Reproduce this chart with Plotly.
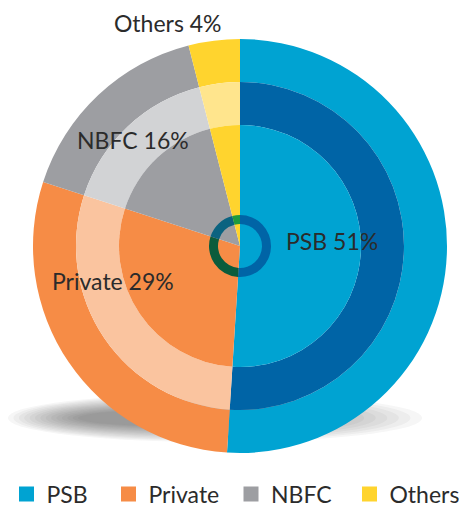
import plotly.graph_objects as go

categories = ["PSB", "Private", "NBFC", "Others"]
shares = [51, 29, 16, 4]
label_texts = ["PSB 51%", "Private 29%", "NBFC 16%", "Others 4%"]

outer_colors = ["#00A3D2", "#F68C46", "#9D9EA2", "#FFD42E"]
middle_colors = ["#0064A6", "#FAC49F", "#D2D3D5", "#FFE58D"]
inner_colors = ["#00A3D2", "#F68C46", "#9D9EA2", "#FFD42E"]
center_colors = ["#0064A6", "#0B5C3C", "#0B6380", "#1E9A3E"]

# page body has an 8px margin, so the figure is sized to fill the rest of the window
OFF = 8
W, H = 467 - OFF, 509 - OFF
cx, cy = 240, 246


def px(x):
    return (x - OFF) / W


def py(y):
    return 1 - (y - OFF) / H


def dom(r):
    return dict(x=[px(cx - r), px(cx + r)], y=[py(cy + r), py(cy - r)])


fig = go.Figure()

common = dict(labels=categories, values=shares, sort=False, direction="clockwise",
              rotation=0, textinfo="none", hoverinfo="label+percent", showlegend=False)

fig.add_trace(go.Pie(**common, domain=dom(207), hole=164 / 207,
                     marker=dict(colors=outer_colors, line=dict(width=0))))
fig.add_trace(go.Pie(**common, domain=dom(164), hole=121 / 164,
                     marker=dict(colors=middle_colors, line=dict(width=0))))
fig.add_trace(go.Pie(**common, domain=dom(121), hole=0,
                     marker=dict(colors=inner_colors, line=dict(width=0))))
fig.add_trace(go.Pie(**common, domain=dom(31), hole=22 / 31,
                     marker=dict(colors=center_colors, line=dict(width=0))))

# legend entries: one legend per category so each can sit where the reference puts it
legend_names = ["legend", "legend2", "legend3", "legend4"]
legend_square_x = [26.5, 128.5, 251, 369.5]
for name, color, lg in zip(categories, outer_colors, legend_names):
    fig.add_trace(go.Scatter(x=[None], y=[None], mode="markers", name=name,
                             marker=dict(symbol="square", size=15, color=color),
                             legend=lg, showlegend=True, hoverinfo="skip"))

# soft shadow under the pie
shapes = []
n = 14
for i in range(n):
    k = i / (n - 1)
    scx, scy = 215 - 40 * k, 418
    hw = 207 - 110 * k
    hh = 24 - 16 * k
    shapes.append(dict(type="circle", xref="paper", yref="paper", layer="below",
                       x0=px(scx - hw), x1=px(scx + hw),
                       y0=py(scy + hh), y1=py(scy - hh),
                       fillcolor="rgba(40,40,40,0.045)", line=dict(width=0)))

label_pos = [(332, 241, "middle"), (113, 281, "middle"), (133, 140, "middle"), (168, 8, "top")]
annotations = []
for t, (x, y, ya) in zip(label_texts, label_pos):
    annotations.append(dict(text=t, x=px(x), y=py(y), xref="paper", yref="paper",
                            showarrow=False, xanchor="center", yanchor=ya, borderpad=0,
                            font=dict(size=23, color="#2b2b2b", family="Lato")))

legend_font = dict(size=23, color="#2b2b2b", family="Lato")
layout_legends = {}
for lg, sx in zip(legend_names, legend_square_x):
    layout_legends[lg] = dict(orientation="v", x=px(sx - 20), y=py(494),
                              xanchor="left", yanchor="middle", font=legend_font,
                              bgcolor="rgba(0,0,0,0)", itemclick=False, itemdoubleclick=False)

fig.update_layout(
    width=W, height=H, margin=dict(l=0, r=0, t=0, b=0, autoexpand=False),
    paper_bgcolor="white", plot_bgcolor="rgba(0,0,0,0)",
    xaxis=dict(visible=False), yaxis=dict(visible=False),
    shapes=shapes, annotations=annotations,
    **layout_legends,
)

fig.write_html("out.html")
